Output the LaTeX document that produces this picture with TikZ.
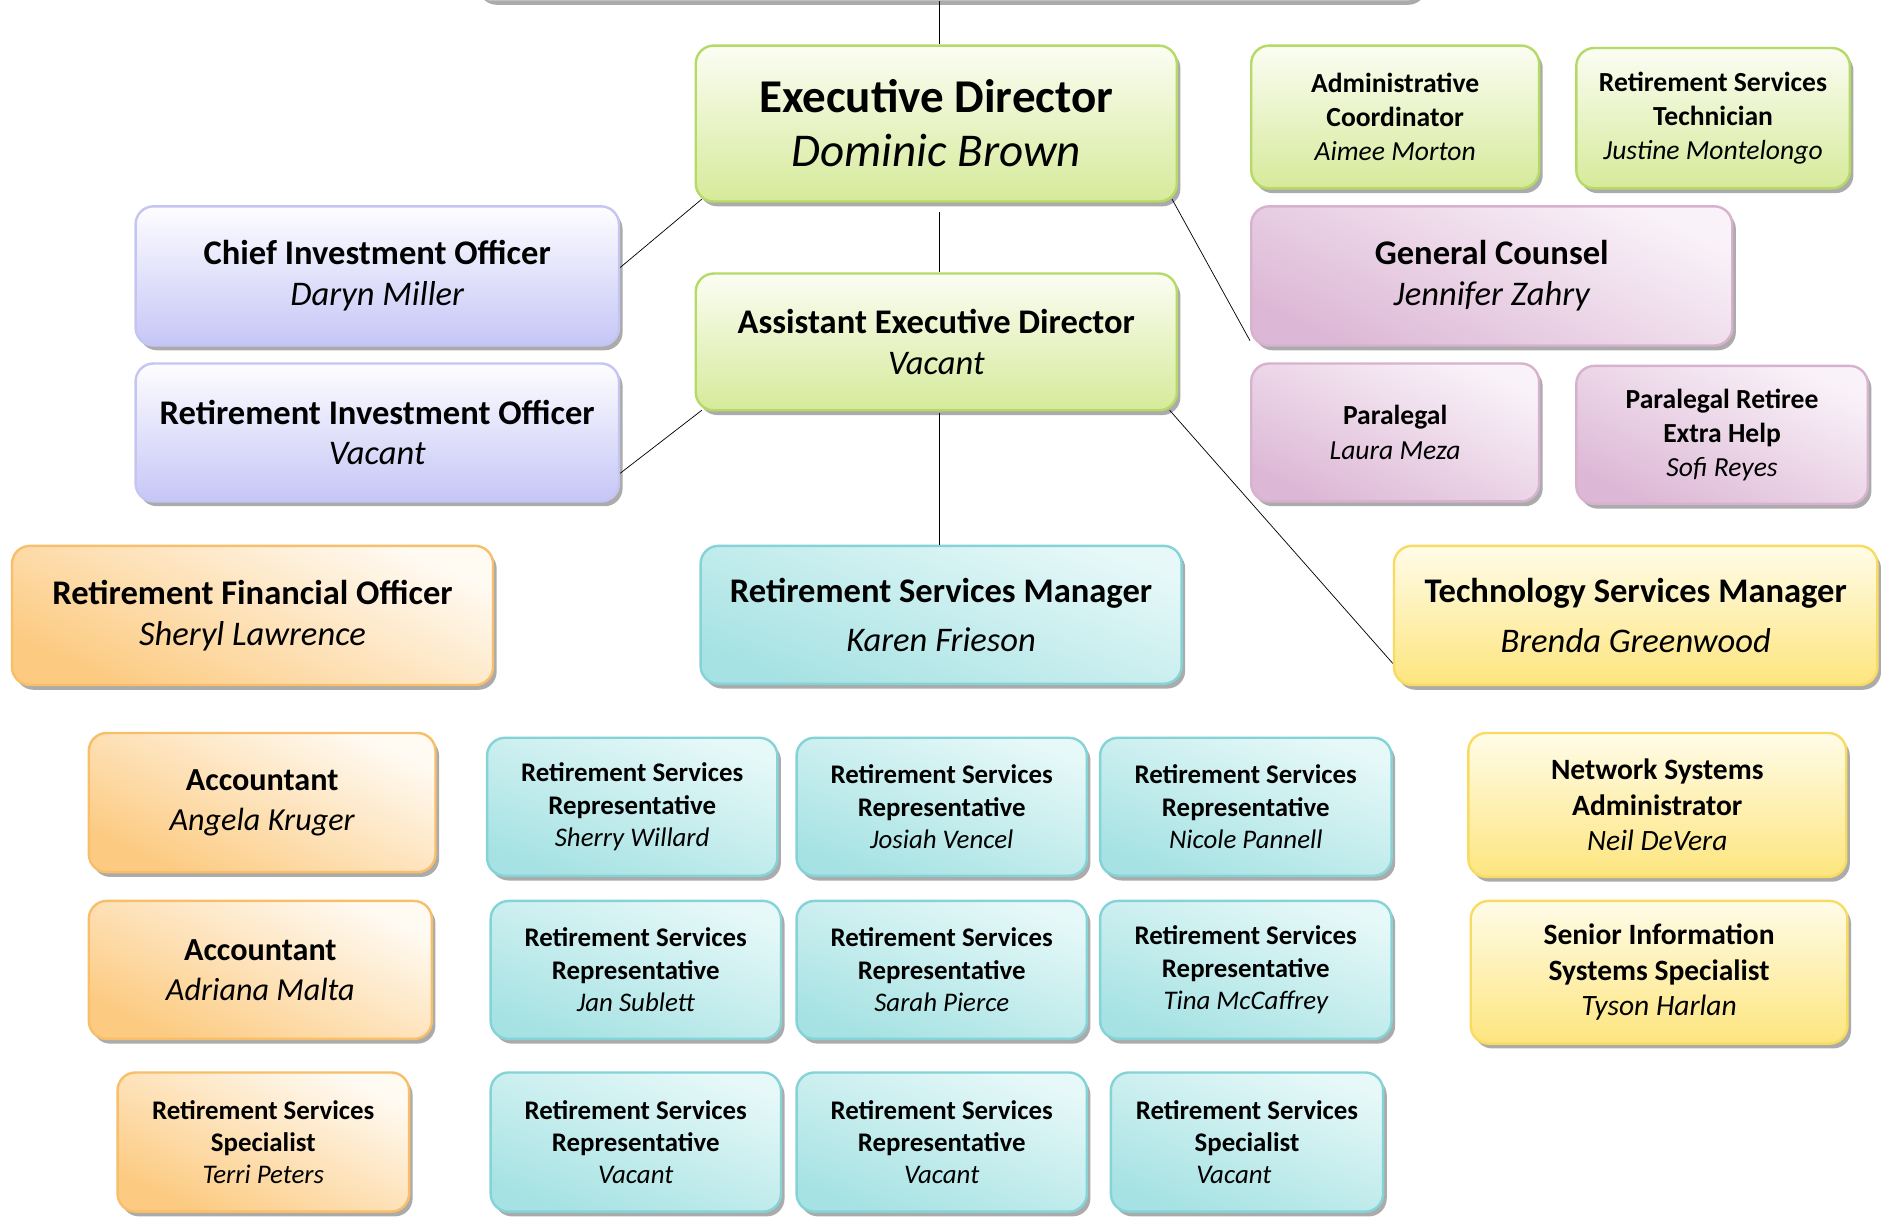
\documentclass[tikz,border=0pt]{standalone}
\usepackage{fontspec}
\setmainfont{Carlito}
\usetikzlibrary{shadows}
\definecolor{grnB}{HTML}{B5DA66}\definecolor{grnT}{HTML}{FBFDF3}\definecolor{grnM}{HTML}{D6EA9A}
\definecolor{lavB}{HTML}{C5C5F2}\definecolor{lavT}{HTML}{FDFDFF}\definecolor{lavM}{HTML}{C6C6F7}
\definecolor{pnkB}{HTML}{D7B2CF}\definecolor{pnkT}{HTML}{F9F2F8}\definecolor{pnkM}{HTML}{DDB8D6}
\definecolor{orgB}{HTML}{F8BE6A}\definecolor{orgT}{HTML}{FFFAF2}\definecolor{orgM}{HTML}{FCCA80}
\definecolor{cynB}{HTML}{84D3D6}\definecolor{cynT}{HTML}{E6F8F8}\definecolor{cynM}{HTML}{A6E2E3}
\definecolor{yelB}{HTML}{FADB62}\definecolor{yelT}{HTML}{FFFCE8}\definecolor{yelM}{HTML}{FDE57E}
\tikzset{
 box/.style={rounded corners=15pt, line width=2pt, align=center, inner sep=0pt, text=black,
   drop shadow={shadow xshift=3pt, shadow yshift=-4pt, fill=black!55, opacity=.6}},
 gbox/.style={box, draw=grnB, top color=grnT, bottom color=grnM},
 lbox/.style={box, draw=lavB, top color=lavT, bottom color=lavM},
 pbox/.style={box, draw=pnkB, top color=pnkT, bottom color=pnkM, shading angle=-25},
 obox/.style={box, draw=orgB, top color=orgT, bottom color=orgM, shading angle=-25},
 cbox/.style={box, draw=cynB, top color=cynT, bottom color=cynM, shading angle=-20},
 ybox/.style={box, draw=yelB, top color=yelT, bottom color=yelM},
 fXL/.style={font=\fontsize{39.2}{45}\selectfont\bfseries},
 fL/.style={font=\fontsize{28.8}{34}\selectfont\bfseries},
 fLw/.style={font=\fontsize{28.8}{41}\selectfont\bfseries},
 fA/.style={font=\fontsize{26.8}{33}\selectfont\bfseries},
 fN/.style={font=\fontsize{24.6}{29.5}\selectfont\bfseries},
 fM/.style={font=\fontsize{23}{28.5}\selectfont\bfseries},
 fS/.style={font=\fontsize{22.4}{27}\selectfont\bfseries},
 vline/.style={black, line width=1.3pt},
 dline/.style={black, line width=0.6pt},
}
\newcommand\nm[1]{{\normalfont\itshape #1}}
\begin{document}
\begin{tikzpicture}[x=1pt,y=-1pt]
\useasboundingbox (0,0) rectangle (1568,1014);
\clip (0,0) rectangle (1568,1014);
\fill[white] (0,0) rectangle (1568,1014);
% partial box at the top
\node[box, draw=black!25, fill=white, minimum width=790, minimum height=80] (topbox) at (791,-40) {};
\coordinate (vx) at (783,0);
% top level
\node[gbox, fXL, minimum width=401, minimum height=130] (ED) at (780.5,103) {Executive Director\\\nm{Dominic Brown}};
\node[gbox, fM, minimum width=240, minimum height=119] (AC) at (1163,97.5) {Administrative\\Coordinator\\\nm{Aimee Morton}};
\node[gbox, fM, minimum width=228, minimum height=117] (RST) at (1428,98.5) {Retirement Services\\Technician\\\nm{Justine Montelongo}};
\node[lbox, fL, minimum width=403, minimum height=116] (CIO) at (314.5,230) {Chief Investment Officer\\\nm{Daryn Miller}};
\node[lbox, fL, minimum width=403, minimum height=115] (RIO) at (314.5,360.5) {Retirement Investment Officer\\\nm{Vacant}};
\node[gbox, fL, minimum width=401, minimum height=114] (AED) at (780.5,285) {Assistant Executive Director\\\nm{Vacant}};
\node[pbox, fL, minimum width=401, minimum height=116] (GC) at (1243.5,230) {General Counsel\\\nm{Jennifer Zahry}};
\node[pbox, fM, minimum width=240, minimum height=115] (PL) at (1163,360.5) {Paralegal\\\nm{Laura Meza}};
\node[pbox, fM, minimum width=243, minimum height=115] (PRE) at (1435.5,362.5) {Paralegal Retiree\\Extra Help\\\nm{Sofi Reyes}};
\node[obox, fL, minimum width=401, minimum height=116] (RFO) at (210.5,513) {Retirement Financial Officer\\\nm{Sheryl Lawrence}};
\node[cbox, fLw, minimum width=401, minimum height=115] (RSM) at (784.5,512.5) {Retirement Services Manager\\\nm{Karen Frieson}};
\node[ybox, fLw, minimum width=403, minimum height=116] (TSM) at (1363.5,513) {Technology Services Manager\\\nm{Brenda Greenwood}};
% finance column
\node[obox, fA, minimum width=289, minimum height=116] (ACC1) at (218.5,669) {Accountant\\\nm{Angela Kruger}};
\node[obox, fA, minimum width=286, minimum height=115] (ACC2) at (217,808.5) {Accountant\\\nm{Adriana Malta}};
\node[obox, fS, minimum width=243, minimum height=116] (RSS1) at (219.5,952) {Retirement Services\\Specialist\\\nm{Terri Peters}};
% retirement services
\node[cbox, fS, minimum width=242, minimum height=115] (R11) at (527,672.5) {Retirement Services\\Representative\\\nm{Sherry Willard}};
\node[cbox, fS, minimum width=242, minimum height=115] (R12) at (530,808.5) {Retirement Services\\Representative\\\nm{Jan Sublett}};
\node[cbox, fS, minimum width=242, minimum height=116] (R13) at (530,952) {Retirement Services\\Representative\\\nm{Vacant}};
\node[cbox, fS, minimum width=242, minimum height=115] (R21) at (785,672.5) {Retirement Services\\Representative\\\nm{Josiah Vencel}};
\node[cbox, fS, minimum width=242, minimum height=115] (R22) at (785,808.5) {Retirement Services\\Representative\\\nm{Sarah Pierce}};
\node[cbox, fS, minimum width=242, minimum height=116] (R23) at (785,952) {Retirement Services\\Representative\\\nm{Vacant}};
\node[cbox, fS, minimum width=243, minimum height=115] (R31) at (1038.5,672.5) {Retirement Services\\Representative\\\nm{Nicole Pannell}};
\node[cbox, fS, minimum width=243, minimum height=115] (R32) at (1038.5,808.5) {Retirement Services\\Representative\\\nm{Tina McCaffrey}};
\node[cbox, fS, minimum width=227, minimum height=116] (R33) at (1039.5,952) {Retirement Services\\Specialist\\\nm{Vacant}\hspace*{22pt}};
% technology
\node[ybox, fN, minimum width=315, minimum height=120] (NSA) at (1381.5,671) {Network Systems\\Administrator\\\nm{Neil DeVera}};
\node[ybox, fN, minimum width=314, minimum height=119] (SIS) at (1383,810.5) {Senior Information\\Systems Specialist\\\nm{Tyson Harlan}};
% connectors
\draw[vline] (vx |- topbox.south) -- (vx |- ED.north);
\draw[vline] ([yshift=-8pt]vx |- ED.south) -- (vx |- AED.north);
\draw[vline] ([yshift=-1pt]vx |- AED.south) -- (vx |- RSM.north);
\draw[dline] ([xshift=6pt,yshift=3pt]ED.south west) -- ([yshift=7pt]CIO.east);
\draw[dline] ([xshift=6pt,yshift=1pt]AED.south west) -- ([yshift=-34pt]RIO.east);
\draw[dline] ([xshift=-5pt,yshift=3pt]ED.south east) -- ([yshift=5pt]GC.south west);
\draw[dline] ([xshift=-7pt,yshift=1pt]AED.south east) -- ([yshift=19pt]TSM.south west);
\end{tikzpicture}
\end{document}
